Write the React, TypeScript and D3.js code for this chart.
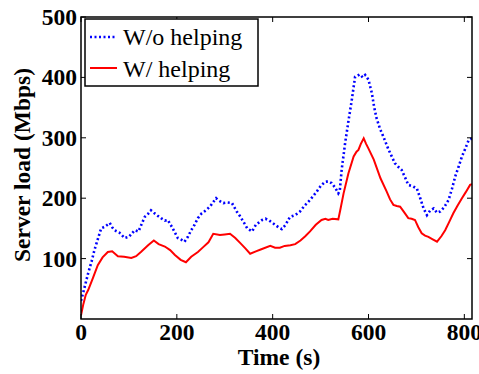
import React from "react";
import * as d3 from "d3";

const xTicks = [0, 200, 400, 600, 800];
const yTicks = [100, 200, 300, 400, 500];
const seriesNames = ["W/o helping", "W/ helping"];

const blueT = [0,5,15,22,28,35,42,50,60,65,70,80,91,100,112,120,133,140,146,152,160,167,175,181,190,202,210,216,223,230,237,244,252,261,270,282,286,297,305,315,325,332,339,347,357,365,378,385,391,398,405,412,419,427,436,447,457,467,478,485,492,500,509,516,523,530,537,540,544,551,558,565,572,582,588,593,600,607,612,617,624,631,641,648,655,662,669,676,683,692,701,708,715,722,729,736,743,750,758,767,774,781,788,795,802,809,816];
const blueV = [30,45,76,95,114,132,150,153,159,152,147,143,134,136,147,145,169,174,180,176,171,167,163,164,152,134,131,128,136,147,156,167,175,180,187,200,197,192,193,192,178,170,161,150,145,156,164,166,164,160,156,152,149,156,169,172,178,188,197,204,211,220,227,228,225,218,208,212,247,290,327,362,401,405,400,404,396,374,350,332,315,302,282,270,258,252,247,235,222,220,216,200,183,172,180,183,176,178,185,197,215,236,252,269,282,296,299];

const redT = [0,5,10,15,25,35,45,56,65,77,90,105,115,125,140,152,162,175,186,196,208,219,230,244,255,266,276,290,300,311,322,332,343,353,365,375,395,405,415,425,437,447,458,468,478,490,502,510,516,525,537,541,548,558,569,575,579,584,590,595,600,611,625,638,645,652,659,666,675,683,690,697,704,711,718,725,734,743,752,760,768,777,786,795,803,812,816];
const redV = [6,25,40,48,68,89,102,111,112,104,103,101,104,111,122,130,124,120,114,106,98,94,103,111,119,127,141,139,140,141,134,126,117,108,112,115,121,118,118,121,122,124,130,137,145,156,164,166,164,166,165,180,208,241,269,277,280,290,299,290,282,264,233,211,198,189,187,186,176,167,166,164,152,142,138,136,132,128,137,147,160,175,188,200,210,222,223];

const W = 479, H = 374;
const L = 81, R = 472, T = 17, B = 319;
const font = "Liberation Serif";

export default function App() {
  const x = d3.scaleLinear().domain([0, 816]).range([L, R]);
  const y = d3.scaleLinear().domain([0, 500]).range([B, T]);
  const line = d3.line<[number, number]>().x(d => x(d[0])).y(d => y(d[1]));
  const blue = line(blueT.map((t, i) => [t, blueV[i]] as [number, number])) || "";
  const red = line(redT.map((t, i) => [t, redV[i]] as [number, number])) || "";
  const tl = 5;
  const ts = { fontFamily: font, fontWeight: 700, fontSize: 23.5 } as React.CSSProperties;
  const as = { fontFamily: font, fontWeight: 700, fontSize: 23.5 } as React.CSSProperties;
  const ls = { fontFamily: font, fontWeight: 400, fontSize: 24 } as React.CSSProperties;
  return (
    <svg width={W} height={H} style={{ position: "absolute", left: 0, top: 0, background: "#fff" }}>
      <rect x={0} y={0} width={W} height={H} fill="#fff" />
      <defs>
        <clipPath id="plot"><rect x={L} y={T} width={R - L} height={B - T} /></clipPath>
      </defs>
      <g clipPath="url(#plot)">
        <path d={blue} fill="none" stroke="#0000ff" strokeWidth={2.6} strokeDasharray="2 2.5" />
        <path d={red} fill="none" stroke="#ff0000" strokeWidth={2} />
      </g>
      {xTicks.map(t => (
        <g key={"x" + t}>
          <line x1={x(t)} x2={x(t)} y1={B} y2={B - tl} stroke="#000" strokeWidth={1} />
          <line x1={x(t)} x2={x(t)} y1={T} y2={T + tl} stroke="#000" strokeWidth={1} />
          <text x={x(t)} y={340} textAnchor="middle" style={ts}>{t}</text>
        </g>
      ))}
      {yTicks.map(v => (
        <g key={"y" + v}>
          <line x1={L} x2={L + tl} y1={y(v)} y2={y(v)} stroke="#000" strokeWidth={1} />
          <line x1={R} x2={R - tl} y1={y(v)} y2={y(v)} stroke="#000" strokeWidth={1} />
          <text x={77} y={y(v) + 8} textAnchor="end" style={ts}>{v}</text>
        </g>
      ))}
      <rect x={L} y={T} width={R - L} height={B - T} fill="none" stroke="#000" strokeWidth={1.5} />
      <text x={279} y={365} textAnchor="middle" style={as}>Time (s)</text>
      <text transform={`translate(30,165) rotate(-90)`} textAnchor="middle" style={as}>Server load (Mbps)</text>
      <rect x={85} y={19} width={173} height={67} fill="#fff" stroke="#000" strokeWidth={1.5} />
      <line x1={90} x2={117} y1={37} y2={37} stroke="#0000ff" strokeWidth={2.6} strokeDasharray="2 2.5" />
      <line x1={90} x2={117} y1={68} y2={68} stroke="#ff0000" strokeWidth={2} />
      <text x={123} y={45} style={ls}>{seriesNames[0]}</text>
      <text x={123} y={77} style={ls}>{seriesNames[1]}</text>
    </svg>
  );
}
